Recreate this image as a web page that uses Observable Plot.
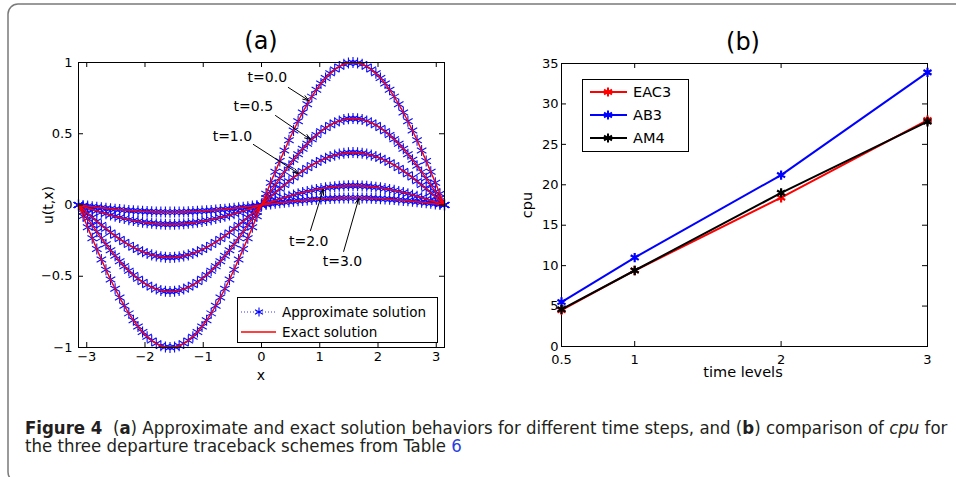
<!DOCTYPE html>
<html><head><meta charset="utf-8">
<script src="https://cdn.jsdelivr.net/npm/d3@7"></script>
<script src="https://cdn.jsdelivr.net/npm/@observablehq/plot@0.6"></script>
<style>
html,body{margin:0;padding:0;background:#fff;}
#wrap{position:relative;width:956px;height:477px;overflow:hidden;background:#fff;}
#wrap > svg{position:absolute;top:0;}
</style></head><body><div id="wrap"></div>
<script>
// ---------- Panel (a) data ----------
const xGrid = [-3.1416,-3.0631,-2.9845,-2.9060,-2.8274,-2.7489,-2.6704,-2.5918,-2.5133,-2.4347,-2.3562,-2.2777,-2.1991,-2.1206,-2.0420,-1.9635,-1.8850,-1.8064,-1.7279,-1.6493,-1.5708,-1.4923,-1.4137,-1.3352,-1.2566,-1.1781,-1.0996,-1.0210,-0.9425,-0.8639,-0.7854,-0.7069,-0.6283,-0.5498,-0.4712,-0.3927,-0.3142,-0.2356,-0.1571,-0.0785,0,
0.0785,0.1571,0.2356,0.3142,0.3927,0.4712,0.5498,0.6283,0.7069,0.7854,0.8639,0.9425,1.0210,1.0996,1.1781,1.2566,1.3352,1.4137,1.4923,1.5708,1.6493,1.7279,1.8064,1.8850,1.9635,2.0420,2.1206,2.1991,2.2777,2.3562,2.4347,2.5133,2.5918,2.6704,2.7489,2.8274,2.9060,2.9845,3.0631,3.1416];
// curve at t=0.0
const shapeT0 = [0,-0.0785,-0.1564,-0.2334,-0.3090,-0.3827,-0.4540,-0.5225,-0.5878,-0.6494,-0.7071,-0.7604,-0.8090,-0.8526,-0.8910,-0.9239,-0.9511,-0.9724,-0.9877,-0.9969,-1,-0.9969,-0.9877,-0.9724,-0.9511,-0.9239,-0.8910,-0.8526,-0.8090,-0.7604,-0.7071,-0.6494,-0.5878,-0.5225,-0.4540,-0.3827,-0.3090,-0.2334,-0.1564,-0.0785,0,
0.0785,0.1564,0.2334,0.3090,0.3827,0.4540,0.5225,0.5878,0.6494,0.7071,0.7604,0.8090,0.8526,0.8910,0.9239,0.9511,0.9724,0.9877,0.9969,1,0.9969,0.9877,0.9724,0.9511,0.9239,0.8910,0.8526,0.8090,0.7604,0.7071,0.6494,0.5878,0.5225,0.4540,0.3827,0.3090,0.2334,0.1564,0.0785,0];
const timeLabels = ["t=0.0","t=0.5","t=1.0","t=2.0","t=3.0"];
const peakAmplitude = [1, 0.607, 0.368, 0.135, 0.05];
const xTicksA = [-3,-2,-1,0,1,2,3];
const yTicksA = [-1,-0.5,0,0.5,1];
// annotation anchors (data coordinates)
const labelX = [0.10,-0.14,-0.50,0.81,1.39];
const labelY = [0.895,0.69,0.48,-0.256,-0.40];
const arrowX1 = [0.46,0.24,-0.14,0.84,1.41];
const arrowY1 = [0.825,0.628,0.425,-0.18,-0.326];
const arrowX2 = [0.81,0.84,0.635,1.06,1.67];
const arrowY2 = [0.733,0.46,0.221,0.109,0.046];

// ---------- Panel (b) data ----------
const timeLevels = [0.5, 1, 2, 3];
const seriesNames = ["EAC3","AB3","AM4"];
const seriesColors = ["#ff0000","#0000ff","#000000"];
const cpuEAC3 = [4.5, 9.4, 18.4, 28.0];
const cpuAB3 = [5.5, 11.0, 21.2, 33.9];
const cpuAM4 = [4.6, 9.4, 19.0, 27.8];
const xTicksB = [0.5, 1, 2, 3];
const yTicksB = [0,5,10,15,20,25,30,35];

const FONT = "DejaVu Sans, Verdana, sans-serif";
const wrap = document.getElementById("wrap");
const fmt = d3.format("~g");

// ---------- build panel (a) ----------
const rowsA = [];
timeLabels.forEach((t,i) => xGrid.forEach((x,j) => rowsA.push({t, x, u: peakAmplitude[i]*shapeT0[j]})));
const ann = timeLabels.map((t,i) => ({t, lx:labelX[i], ly:labelY[i], x1:arrowX1[i], y1:arrowY1[i], x2:arrowX2[i], y2:arrowY2[i]}));

const A = {w:480, h:400, ml:78, mr:36, mt:62, mb:53};
const fwA = A.w-A.ml-A.mr, fhA = A.h-A.mt-A.mb, tk = 5;
const plotA = Plot.plot({
  width:A.w, height:A.h, marginLeft:A.ml, marginRight:A.mr, marginTop:A.mt, marginBottom:A.mb,
  style:{fontFamily:FONT, fontSize:"13px", color:"#000", background:"transparent", overflow:"visible"},
  x:{domain:[-3.1416,3.1416]},
  y:{domain:[-1,1]},
  marks:[
    Plot.line(rowsA,{x:"x",y:"u",z:"t",stroke:"#0000ff",strokeWidth:0.8,strokeDasharray:"1,2"}),
    Plot.dot(rowsA,{x:"x",y:"u",symbol:"asterisk",r:5.2,stroke:"#0a0aff",strokeWidth:1.1}),
    Plot.line(rowsA,{x:"x",y:"u",z:"t",stroke:"#ff0000",strokeWidth:1.4}),
    Plot.frame({stroke:"#000",strokeWidth:1}),
    Plot.tickX(xTicksA,{x:d=>d,insetTop:fhA-tk,stroke:"#000"}),
    Plot.tickX(xTicksA,{x:d=>d,insetBottom:fhA-tk,stroke:"#000"}),
    Plot.tickY(yTicksA,{y:d=>d,insetRight:fwA-tk,stroke:"#000"}),
    Plot.tickY(yTicksA,{y:d=>d,insetLeft:fwA-tk,stroke:"#000"}),
    Plot.axisX({ticks:xTicksA,tickSize:0,tickPadding:4,label:null,tickFormat:fmt}),
    Plot.axisY({ticks:yTicksA,tickSize:0,tickPadding:6,label:null,tickFormat:fmt}),
    Plot.arrow(ann,{x1:"x1",y1:"y1",x2:"x2",y2:"y2",stroke:"#000",strokeWidth:1,headLength:9,headAngle:40}),
    Plot.text(ann,{x:"lx",y:"ly",text:"t",fontSize:14,fill:"#000"})
  ]
});
plotA.style.left = "0px";
wrap.appendChild(plotA);

// ---------- build panel (b) ----------
const cpuSeries = [cpuEAC3, cpuAB3, cpuAM4];
const B = {w:476, h:400, ml:81, mr:29, mt:63, mb:54};
const fwB = B.w-B.ml-B.mr, fhB = B.h-B.mt-B.mb;
const seriesMarks = seriesNames.flatMap((name,i) => {
  const rows = timeLevels.map((x,j) => ({name, x, cpu: cpuSeries[i][j]}));
  return [
    Plot.line(rows,{x:"x",y:"cpu",stroke:seriesColors[i],strokeWidth:2}),
    Plot.dot(rows,{x:"x",y:"cpu",symbol:"asterisk",r:4.4,stroke:seriesColors[i],strokeWidth:2.2})
  ];
});
const plotB = Plot.plot({
  width:B.w, height:B.h, marginLeft:B.ml, marginRight:B.mr, marginTop:B.mt, marginBottom:B.mb,
  style:{fontFamily:FONT, fontSize:"13px", color:"#000", background:"transparent", overflow:"visible"},
  x:{domain:[0.5,3]},
  y:{domain:[0,35]},
  marks:[
    Plot.frame({stroke:"#000",strokeWidth:1}),
    Plot.tickX(xTicksB,{x:d=>d,insetTop:fhB-tk,stroke:"#000"}),
    Plot.tickX(xTicksB,{x:d=>d,insetBottom:fhB-tk,stroke:"#000"}),
    Plot.tickY(yTicksB,{y:d=>d,insetRight:fwB-tk,stroke:"#000"}),
    Plot.tickY(yTicksB,{y:d=>d,insetLeft:fwB-tk,stroke:"#000"}),
    ...seriesMarks,
    Plot.axisX({ticks:xTicksB,tickSize:0,tickPadding:8,label:null,tickFormat:fmt}),
    Plot.axisY({ticks:yTicksB,tickSize:0,tickPadding:3,label:null,tickFormat:fmt})
  ]
});
plotB.style.left = "480px";
wrap.appendChild(plotB);

// ---------- overlay: border, titles, axis labels, legends, caption ----------
const ov = d3.select(wrap).append("svg").attr("width",956).attr("height",477)
  .style("left","0px").style("pointer-events","none");
ov.append("rect").attr("x",8).attr("y",4).attr("width",1000).attr("height",478)
  .attr("rx",10).attr("fill","none").attr("stroke","#7a7a7a").attr("stroke-width",1.5);

function label(x,y,txt,size,rot){
  const t = ov.append("text").attr("font-family",FONT).attr("font-size",size)
    .attr("text-anchor","middle").attr("dy","0.35em").attr("fill","#000").text(txt);
  if (rot) t.attr("transform",`translate(${x},${y}) rotate(-90)`);
  else t.attr("x",x).attr("y",y);
}
label(261,41,"(a)",24);
label(743,42,"(b)",24);
label(261,375,"x",14);
label(743,372,"time levels",14.5);
label(48,205,"u(t,x)",14,true);
label(527,205,"cpu",14.5,true);

const sym = d3.symbol().type(d3.symbolAsterisk).size(Math.PI*19);
// legend (a)
const la = ov.append("g");
la.append("rect").attr("x",237.5).attr("y",297.5).attr("width",200).attr("height",45)
  .attr("fill","#fff").attr("stroke","#000").attr("stroke-width",1);
la.append("line").attr("x1",241).attr("x2",276).attr("y1",312).attr("y2",312)
  .attr("stroke","#0000ff").attr("stroke-width",0.8).attr("stroke-dasharray","1,2");
la.append("path").attr("d",sym()).attr("transform","translate(259,312)").attr("fill","none").attr("stroke","#0000ff").attr("stroke-width",1.1);
la.append("line").attr("x1",241).attr("x2",276).attr("y1",332).attr("y2",332)
  .attr("stroke","#ff0000").attr("stroke-width",1.3);
la.append("text").attr("x",282).attr("y",312).attr("dy","0.35em").attr("font-family",FONT).attr("font-size",13.5).text("Approximate solution");
la.append("text").attr("x",282).attr("y",332).attr("dy","0.35em").attr("font-family",FONT).attr("font-size",13.5).text("Exact solution");

// legend (b)
const lb = ov.append("g");
lb.append("rect").attr("x",582.5).attr("y",79.5).attr("width",106).attr("height",72)
  .attr("fill","#fff").attr("stroke","#000").attr("stroke-width",1);
seriesNames.forEach((name,i) => {
  const y = 92 + i*23;
  lb.append("line").attr("x1",590).attr("x2",627).attr("y1",y).attr("y2",y)
    .attr("stroke",seriesColors[i]).attr("stroke-width",2);
  lb.append("path").attr("d",sym()).attr("transform",`translate(608,${y})`).attr("fill","none")
    .attr("stroke",seriesColors[i]).attr("stroke-width",2);
  lb.append("text").attr("x",633).attr("y",y).attr("dy","0.35em").attr("font-family",FONT).attr("font-size",14.5).text(name);
});

// caption: each styled run is its own text element, placed after measuring the previous run
const capFont = "'Liberation Sans Narrow', 'DejaVu Sans Condensed', 'Open Sans', sans-serif";
const capLines = [
  {y:434, runs:[
    {t:"Figure 4", w:"bold"}, {gap:2}, {t:"("}, {t:"a", w:"bold"},
    {t:") Approximate and exact solution behaviors for different time steps, and ("},
    {t:"b", w:"bold"}, {t:") comparison of"}, {gap:1}, {t:"cpu", s:"italic"}, {gap:1}, {t:"for"}]},
  {y:452, runs:[{t:"the three departure traceback schemes from Table"}, {gap:1}, {t:"6", c:"#2b3fe0"}]}
];
const capG = ov.append("g").attr("font-family",capFont).attr("fill","#231f20");
function layoutCaption(size){
  capG.selectAll("*").remove();
  capG.attr("font-size", size);
  const probe = capG.append("text").style("white-space","pre").text("a a");
  const probe2 = capG.append("text").text("aa");
  const sp = probe.node().getComputedTextLength() - probe2.node().getComputedTextLength();
  probe.remove(); probe2.remove();
  let widths = [];
  capLines.forEach(line => {
    let x = 25;
    line.runs.forEach(r => {
      if (r.gap) { x += sp * r.gap; return; }
      const el = capG.append("text").attr("x", x).attr("y", line.y).text(r.t);
      if (r.w) el.attr("font-weight", r.w);
      if (r.s) el.attr("font-style", r.s);
      if (r.c) el.attr("fill", r.c);
      x += el.node().getComputedTextLength();
    });
    widths.push(x - 25);
  });
  return widths[0];
}
const w0 = layoutCaption(17.5);
layoutCaption((17.5 * 923 / w0).toFixed(2));
</script></body></html>
